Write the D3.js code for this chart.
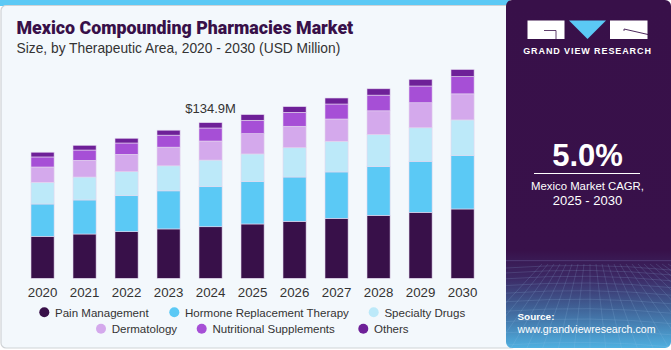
<!DOCTYPE html>
<html><head><meta charset="utf-8">
<script src="https://cdn.jsdelivr.net/npm/d3@7"></script>
<style>
html,body{margin:0;padding:0;background:#fff;}
svg{display:block;font-family:"Liberation Sans",Arial,sans-serif;}
</style></head>
<body>
<svg id="c" width="671" height="350"></svg>
<script>
const years = ["2020","2021","2022","2023","2024","2025","2026","2027","2028","2029","2030"];
const seriesNames = ["Pain Management","Hormone Replacement Therapy","Specialty Drugs","Dermatology","Nutritional Supplements","Others"];
const painManagement = [36.4,38.4,40.4,42.8,44.7,47.1,49.4,52.0,54.6,57.2,60.1];
const hormoneReplacement = [28.0,29.5,31.2,33.0,34.7,36.7,38.4,40.2,42.2,44.2,46.2];
const specialtyDrugs = [18.8,19.9,20.8,21.7,23.1,24.0,25.4,26.6,27.8,29.1,31.0];
const dermatology = [13.3,14.5,15.1,16.2,16.5,17.6,18.6,19.3,20.6,21.7,22.6];
const nutritional = [8.7,8.9,9.8,10.4,11.3,11.6,12.1,13.0,13.6,14.5,15.0];
const others = [4.1,4.1,4.1,4.3,4.6,4.9,4.9,5.2,5.5,5.8,6.1];
const colors = ["#381049","#5bc9f5","#bce9f9","#d4a9ec","#a64fd6","#6e2098"];
const annotationYear = "2024";
const annotationText = "$134.9M";
const cagrText = "5.0%";

const svg = d3.select("#c");
const W = 671, H = 350;

function fit(sel, base, target){
  const w = sel.node().getComputedTextLength();
  sel.attr("font-size", base*target/w);
  return sel;
}

// backgrounds
svg.append("rect").attr("x",0).attr("y",0).attr("width",W).attr("height",H).attr("fill","#ffffff");
svg.append("rect").attr("x",0).attr("y",0).attr("width",510).attr("height",6).attr("fill","#5bc9f5");
svg.append("rect").attr("x",1).attr("y",5.5).attr("width",515).attr("height",342.5).attr("rx",5)
  .attr("fill","#f3f8fc").attr("stroke","#cfd3d6").attr("stroke-width",1.2);

// right panel
const defs = svg.append("defs");
const g1 = defs.append("linearGradient").attr("id","pg").attr("x1",0).attr("y1",0).attr("x2",0).attr("y2",1);
g1.append("stop").attr("offset","0%").attr("stop-color","#381049");
g1.append("stop").attr("offset","72%").attr("stop-color","#38114a");
g1.append("stop").attr("offset","80%").attr("stop-color","#3c2a66");
g1.append("stop").attr("offset","88%").attr("stop-color","#3f5e93");
g1.append("stop").attr("offset","100%").attr("stop-color","#4fb0e0");
const clip = defs.append("clipPath").attr("id","pc");
clip.append("rect").attr("x",506).attr("y",0).attr("width",165).attr("height",348).attr("rx",6);
const panel = svg.append("g").attr("clip-path","url(#pc)");
panel.append("rect").attr("x",506).attr("y",0).attr("width",165).attr("height",348).attr("fill","url(#pg)");
// grid texture
const gridG = panel.append("g").attr("stroke","#9fc6ea").attr("stroke-opacity",0.28).attr("stroke-width",0.6).attr("fill","none");
for (let i=0;i<14;i++){
  const yy = 268 + i*i*0.45 + i*4.5;
  gridG.append("path").attr("d",`M506,${yy} Q590,${yy-6} 671,${yy+2}`);
}
for (let i=-8;i<=20;i++){
  const x0 = 590 + i*6, x1 = 590 + i*16;
  gridG.append("path").attr("d",`M${x0},264 L${x1},350`);
}
panel.append("rect").attr("x",506).attr("y",260).attr("width",165).attr("height",1.2).attr("fill","#5a4a86").attr("opacity",0.6);

// logo
const logo = svg.append("g");
logo.append("rect").attr("x",527.5).attr("y",20.5).attr("width",37).attr("height",18.5).attr("fill","#ffffff");
logo.append("path").attr("d","M544,30.5 L556,30.5 L556,39").attr("stroke","#381049").attr("stroke-width",0.8).attr("fill","none");
logo.append("path").attr("d","M569,20.5 L606,20.5 L587.5,39 Z").attr("fill","#5bc9f5");
logo.append("rect").attr("x",610).attr("y",20.5).attr("width",37.5).attr("height",18.5).attr("fill","#ffffff");
logo.append("path").attr("d","M624,29 L648,34.5").attr("stroke","#381049").attr("stroke-width",0.9);
logo.append("path").attr("d","M624,29 L624,31").attr("stroke","#381049").attr("stroke-width",0.8);
svg.append("text").attr("x",587.5).attr("y",54).attr("text-anchor","middle").attr("fill","#ffffff")
  .attr("font-size",9).attr("font-weight","bold").attr("letter-spacing",0.9).text("GRAND VIEW RESEARCH");

svg.append("text").attr("x",587.5).attr("y",165.5).attr("text-anchor","middle").attr("fill","#ffffff")
  .attr("font-size",31).attr("font-weight","bold").text(cagrText);
svg.append("line").attr("x1",534).attr("x2",640).attr("y1",173.5).attr("y2",173.5).attr("stroke","#ffffff").attr("stroke-width",1);
fit(svg.append("text").attr("x",587.5).attr("y",189.5).attr("text-anchor","middle").attr("fill","#ffffff")
  .attr("font-size",13).text("Mexico Market CAGR,"), 13, 113);
svg.append("text").attr("x",587.5).attr("y",204.5).attr("text-anchor","middle").attr("fill","#ffffff")
  .attr("font-size",13).text("2025 - 2030");
fit(svg.append("text").attr("x",517.5).attr("y",319.5).attr("fill","#ffffff")
  .attr("font-size",12).attr("font-weight","bold").text("Source:"), 12, 37);
fit(svg.append("text").attr("x",517.5).attr("y",332.5).attr("fill","#ffffff")
  .attr("font-size",12).text("www.grandviewresearch.com"), 12, 138);

// titles
const title = svg.append("text").attr("x",16.5).attr("y",34.3).attr("fill","#381049")
  .attr("font-size",20).attr("font-weight","900").style("font-family","Roboto, 'Liberation Sans', sans-serif")
  .text("Mexico Compounding Pharmacies Market");
fit(title, 20, 337);
const sub = svg.append("text").attr("x",16.5).attr("y",53).attr("fill","#333333")
  .attr("font-size",13).text("Size, by Therapeutic Area, 2020 - 2030 (USD Million)");
fit(sub, 13, 324);

// chart
const table = years.map((yr,i)=>({year:yr,
  [seriesNames[0]]:painManagement[i],[seriesNames[1]]:hormoneReplacement[i],[seriesNames[2]]:specialtyDrugs[i],
  [seriesNames[3]]:dermatology[i],[seriesNames[4]]:nutritional[i],[seriesNames[5]]:others[i]}));
const stack = d3.stack().keys(seriesNames)(table);
const x = d3.scaleBand().domain(years).range([12.1,493]).paddingInner(0.45).paddingOuter(0.45);
const baseY = 278.3;
const y = d3.scaleLinear().domain([0,134.9]).range([baseY, 122.7]);
const color = d3.scaleOrdinal().domain(seriesNames).range(colors);

svg.append("g").selectAll("g").data(stack).join("g").attr("fill",d=>color(d.key))
  .selectAll("rect").data(d=>d).join("rect")
  .attr("x",d=>x(d.data.year)).attr("width",x.bandwidth())
  .attr("y",d=>y(d[1])).attr("height",d=>y(d[0])-y(d[1]))
  .attr("stroke","#e3d6ee").attr("stroke-width",0.6);

const xAxis = svg.append("g").attr("transform",`translate(0,${baseY})`)
  .call(d3.axisBottom(x).tickSize(0).tickPadding(9));
xAxis.select(".domain").remove();
xAxis.selectAll("text").attr("font-size",13.3).attr("fill","#333333").style("font-family","'Liberation Sans',Arial,sans-serif");

const tot = stack[stack.length-1].find(d=>d.data.year===annotationYear)[1];
svg.append("text").attr("x",x(annotationYear)+x.bandwidth()/2).attr("y",y(tot)-9.5)
  .attr("text-anchor","middle").attr("font-size",13).attr("fill","#333333").text(annotationText);

// legend
const legendItems = [
  {name:seriesNames[0], cx:44.3, cy:312.3},
  {name:seriesNames[1], cx:174.3, cy:312.3},
  {name:seriesNames[2], cx:373.7, cy:312.3},
  {name:seriesNames[3], cx:101, cy:328.7},
  {name:seriesNames[4], cx:201.7, cy:328.7},
  {name:seriesNames[5], cx:363.3, cy:328.7}];
const lg = svg.append("g").selectAll("g").data(legendItems).join("g");
lg.append("circle").attr("cx",d=>d.cx).attr("cy",d=>d.cy).attr("r",5).attr("fill",d=>color(d.name));
const lt = lg.append("text").attr("x",d=>d.cx+10.7).attr("y",d=>d.cy+4.3).attr("font-size",12).attr("fill","#333333").text(d=>d.name);
const hw = lt.filter(d=>d.name===seriesNames[1]).node().getComputedTextLength();
lt.attr("font-size", 12*164/hw);
</script>
</body></html>
